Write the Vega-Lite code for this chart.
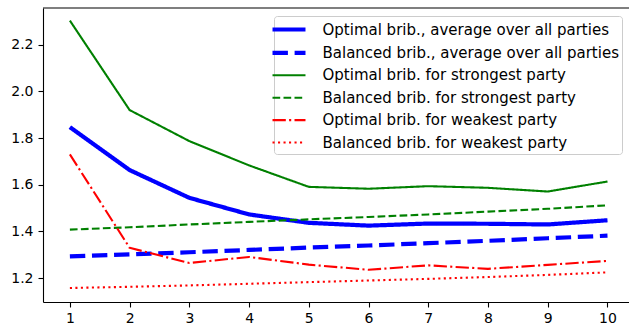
{
  "$schema": "https://vega.github.io/schema/vega-lite/v6.json",
  "width": 586,
  "height": 294,
  "autosize": {"type": "none"},
  "padding": {"left": 43, "top": 8, "right": 0, "bottom": 25},
  "config": {
    "font": "DejaVu Sans",
    "view": {"stroke": null},
    "axis": {
      "grid": false,
      "domainColor": "#000000",
      "domainWidth": 1.1,
      "tickColor": "#000000",
      "tickWidth": 1.1,
      "tickSize": 5,
      "labelFontSize": 14,
      "labelColor": "#000000",
      "labelFont": "DejaVu Sans",
      "title": null
    }
  },
  "data": {
    "values": [
      {"x": 1, "v": 1.847, "s": "Optimal brib., average over all parties"},
      {"x": 2, "v": 1.663, "s": "Optimal brib., average over all parties"},
      {"x": 3, "v": 1.544, "s": "Optimal brib., average over all parties"},
      {"x": 4, "v": 1.473, "s": "Optimal brib., average over all parties"},
      {"x": 5, "v": 1.437, "s": "Optimal brib., average over all parties"},
      {"x": 6, "v": 1.425, "s": "Optimal brib., average over all parties"},
      {"x": 7, "v": 1.434, "s": "Optimal brib., average over all parties"},
      {"x": 8, "v": 1.433, "s": "Optimal brib., average over all parties"},
      {"x": 9, "v": 1.430, "s": "Optimal brib., average over all parties"},
      {"x": 10, "v": 1.448, "s": "Optimal brib., average over all parties"},
      {"x": 1, "v": 1.293, "s": "Balanced brib., average over all parties"},
      {"x": 2, "v": 1.302, "s": "Balanced brib., average over all parties"},
      {"x": 3, "v": 1.311, "s": "Balanced brib., average over all parties"},
      {"x": 4, "v": 1.321, "s": "Balanced brib., average over all parties"},
      {"x": 5, "v": 1.331, "s": "Balanced brib., average over all parties"},
      {"x": 6, "v": 1.340, "s": "Balanced brib., average over all parties"},
      {"x": 7, "v": 1.350, "s": "Balanced brib., average over all parties"},
      {"x": 8, "v": 1.360, "s": "Balanced brib., average over all parties"},
      {"x": 9, "v": 1.371, "s": "Balanced brib., average over all parties"},
      {"x": 10, "v": 1.382, "s": "Balanced brib., average over all parties"},
      {"x": 1, "v": 2.303, "s": "Optimal brib. for strongest party"},
      {"x": 2, "v": 1.920, "s": "Optimal brib. for strongest party"},
      {"x": 3, "v": 1.787, "s": "Optimal brib. for strongest party"},
      {"x": 4, "v": 1.683, "s": "Optimal brib. for strongest party"},
      {"x": 5, "v": 1.591, "s": "Optimal brib. for strongest party"},
      {"x": 6, "v": 1.583, "s": "Optimal brib. for strongest party"},
      {"x": 7, "v": 1.594, "s": "Optimal brib. for strongest party"},
      {"x": 8, "v": 1.587, "s": "Optimal brib. for strongest party"},
      {"x": 9, "v": 1.571, "s": "Optimal brib. for strongest party"},
      {"x": 10, "v": 1.614, "s": "Optimal brib. for strongest party"},
      {"x": 1, "v": 1.408, "s": "Balanced brib. for strongest party"},
      {"x": 2, "v": 1.418, "s": "Balanced brib. for strongest party"},
      {"x": 3, "v": 1.430, "s": "Balanced brib. for strongest party"},
      {"x": 4, "v": 1.441, "s": "Balanced brib. for strongest party"},
      {"x": 5, "v": 1.452, "s": "Balanced brib. for strongest party"},
      {"x": 6, "v": 1.462, "s": "Balanced brib. for strongest party"},
      {"x": 7, "v": 1.473, "s": "Balanced brib. for strongest party"},
      {"x": 8, "v": 1.485, "s": "Balanced brib. for strongest party"},
      {"x": 9, "v": 1.497, "s": "Balanced brib. for strongest party"},
      {"x": 10, "v": 1.512, "s": "Balanced brib. for strongest party"},
      {"x": 1, "v": 1.730, "s": "Optimal brib. for weakest party"},
      {"x": 2, "v": 1.330, "s": "Optimal brib. for weakest party"},
      {"x": 3, "v": 1.265, "s": "Optimal brib. for weakest party"},
      {"x": 4, "v": 1.291, "s": "Optimal brib. for weakest party"},
      {"x": 5, "v": 1.258, "s": "Optimal brib. for weakest party"},
      {"x": 6, "v": 1.236, "s": "Optimal brib. for weakest party"},
      {"x": 7, "v": 1.255, "s": "Optimal brib. for weakest party"},
      {"x": 8, "v": 1.240, "s": "Optimal brib. for weakest party"},
      {"x": 9, "v": 1.257, "s": "Optimal brib. for weakest party"},
      {"x": 10, "v": 1.274, "s": "Optimal brib. for weakest party"},
      {"x": 1, "v": 1.158, "s": "Balanced brib. for weakest party"},
      {"x": 2, "v": 1.163, "s": "Balanced brib. for weakest party"},
      {"x": 3, "v": 1.169, "s": "Balanced brib. for weakest party"},
      {"x": 4, "v": 1.176, "s": "Balanced brib. for weakest party"},
      {"x": 5, "v": 1.183, "s": "Balanced brib. for weakest party"},
      {"x": 6, "v": 1.190, "s": "Balanced brib. for weakest party"},
      {"x": 7, "v": 1.197, "s": "Balanced brib. for weakest party"},
      {"x": 8, "v": 1.205, "s": "Balanced brib. for weakest party"},
      {"x": 9, "v": 1.214, "s": "Balanced brib. for weakest party"},
      {"x": 10, "v": 1.225, "s": "Balanced brib. for weakest party"}
    ]
  },
  "layer": [
    {
      "mark": {"type": "line", "strokeCap": "butt", "strokeJoin": "round"},
      "encoding": {
        "x": {
          "field": "x", "type": "quantitative",
          "scale": {"domain": [0.55, 10.36], "nice": false, "zero": false},
          "axis": {"values": [1, 2, 3, 4, 5, 6, 7, 8, 9, 10], "format": "d", "labelPadding": 4, "labelFlush": false}
        },
        "y": {
          "field": "v", "type": "quantitative",
          "scale": {"domain": [1.098, 2.357], "nice": false, "zero": false},
          "axis": {"values": [1.2, 1.4, 1.6, 1.8, 2.0, 2.2], "format": ".1f", "labelPadding": 5}
        },
        "color": {
          "field": "s", "type": "nominal",
          "scale": {
            "domain": ["Optimal brib., average over all parties", "Balanced brib., average over all parties", "Optimal brib. for strongest party", "Balanced brib. for strongest party", "Optimal brib. for weakest party", "Balanced brib. for weakest party"],
            "range": ["#0000ff", "#0000ff", "#008000", "#008000", "#ff0000", "#ff0000"]
          },
          "legend": {
            "title": null,
            "orient": "none",
            "legendX": 231,
            "legendY": 8,
            "symbolType": "M-2,0H2",
            "symbolSize": 272,
            "symbolOffset": 1.5,
            "labelFontSize": 15,
            "labelFont": "DejaVu Sans",
            "labelColor": "#000000",
            "labelOffset": 23,
            "padding": 3,
            "rowPadding": 4.4,
            "strokeColor": "#cccccc",
            "fillColor": "rgba(255,255,255,0.8)",
            "cornerRadius": 3,
            "labelLimit": 400
          }
        },
        "strokeDash": {
          "field": "s", "type": "nominal",
          "scale": {
            "domain": ["Optimal brib., average over all parties", "Balanced brib., average over all parties", "Optimal brib. for strongest party", "Balanced brib. for strongest party", "Optimal brib. for weakest party", "Balanced brib. for weakest party"],
            "range": [[1, 0], [15.4, 6.7], [1, 0], [7.7, 3.3], [13.3, 3.3, 2.1, 3.3], [2.1, 3.4]]
          }
        },
        "strokeWidth": {
          "field": "s", "type": "nominal",
          "scale": {
            "type": "ordinal",
            "domain": ["Optimal brib., average over all parties", "Balanced brib., average over all parties", "Optimal brib. for strongest party", "Balanced brib. for strongest party", "Optimal brib. for weakest party", "Balanced brib. for weakest party"],
            "range": [4.2, 4.2, 2.1, 2.1, 2.1, 2.1]
          }
        }
      }
    },
    {
      "data": {"values": [{"top": 2.357}]},
      "mark": {"type": "rule", "color": "#000000", "strokeWidth": 1.1},
      "encoding": {"y": {"field": "top", "type": "quantitative"}}
    }
  ]
}
